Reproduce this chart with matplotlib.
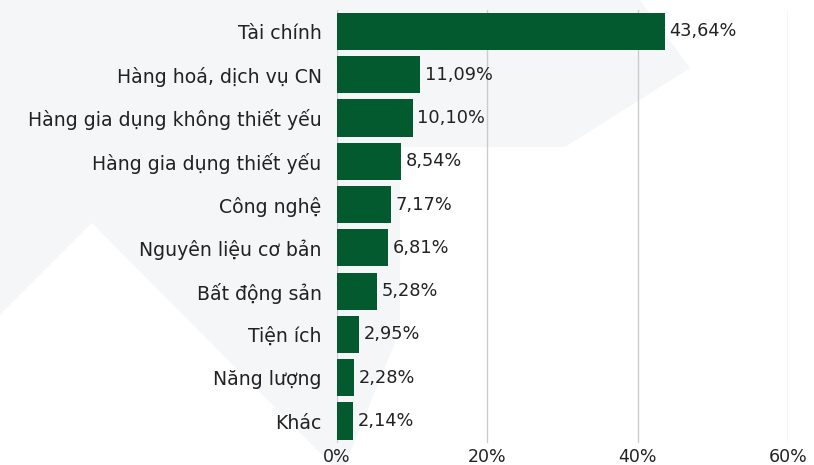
import numpy as np
import matplotlib.pyplot as plt
from matplotlib.patches import Polygon
from matplotlib.ticker import FuncFormatter

categories = ['Tài chính', 'Hàng hoá, dịch vụ CN', 'Hàng gia dụng không thiết yếu',
              'Hàng gia dụng thiết yếu', 'Công nghệ', 'Nguyên liệu cơ bản',
              'Bất động sản', 'Tiện ích', 'Năng lượng', 'Khác']
values = [43.64, 11.09, 10.10, 8.54, 7.17, 6.81, 5.28, 2.95, 2.28, 2.14]
ticks = [0, 20, 40, 60]

plt.rcParams['font.family'] = ['DejaVu Sans']
green = '#025a2e'
txt = '#222222'

fig = plt.figure(figsize=(8.14, 4.65), dpi=100)

# faint watermark in the background
bg = fig.add_axes([0, 0, 1, 1], zorder=-1)
bg.set_xlim(0, 814)
bg.set_ylim(465, 0)
bg.axis('off')
shape = [(0, 0), (640, 0), (690, 68), (565, 147), (400, 147), (400, 330),
         (345, 465), (332, 465), (92, 223), (0, 315)]
bg.add_patch(Polygon(shape, closed=True, color='#f5f6f8', lw=0))

ax = fig.add_axes([337 / 814, 22.3 / 465, 451 / 814, 433 / 465])
ax.patch.set_alpha(0)
y = np.arange(len(categories))
ax.barh(y, values, height=0.86, color=green, zorder=3)
for yi, v in zip(y, values):
    ax.text(v + 0.6, yi, ('%.2f%%' % v).replace('.', ','), va='center', ha='left',
            fontsize=12.8, color=txt)

ax.set_yticks(y)
ax.set_yticklabels(categories, fontsize=13.6, color=txt)
ax.set_ylim(len(categories) - 0.5, -0.5)
ax.set_xlim(0, 60)
ax.set_xticks(ticks)
ax.xaxis.set_major_formatter(FuncFormatter(lambda v, p: '%d%%' % v))
ax.tick_params(axis='x', labelsize=12.5, colors=txt, length=0, pad=4)
ax.tick_params(axis='y', length=0, pad=11)
ax.grid(axis='x', color='#cccccc', lw=1, zorder=0)
for s in ax.spines.values():
    s.set_visible(False)

fig.savefig('out.png', dpi=100)
